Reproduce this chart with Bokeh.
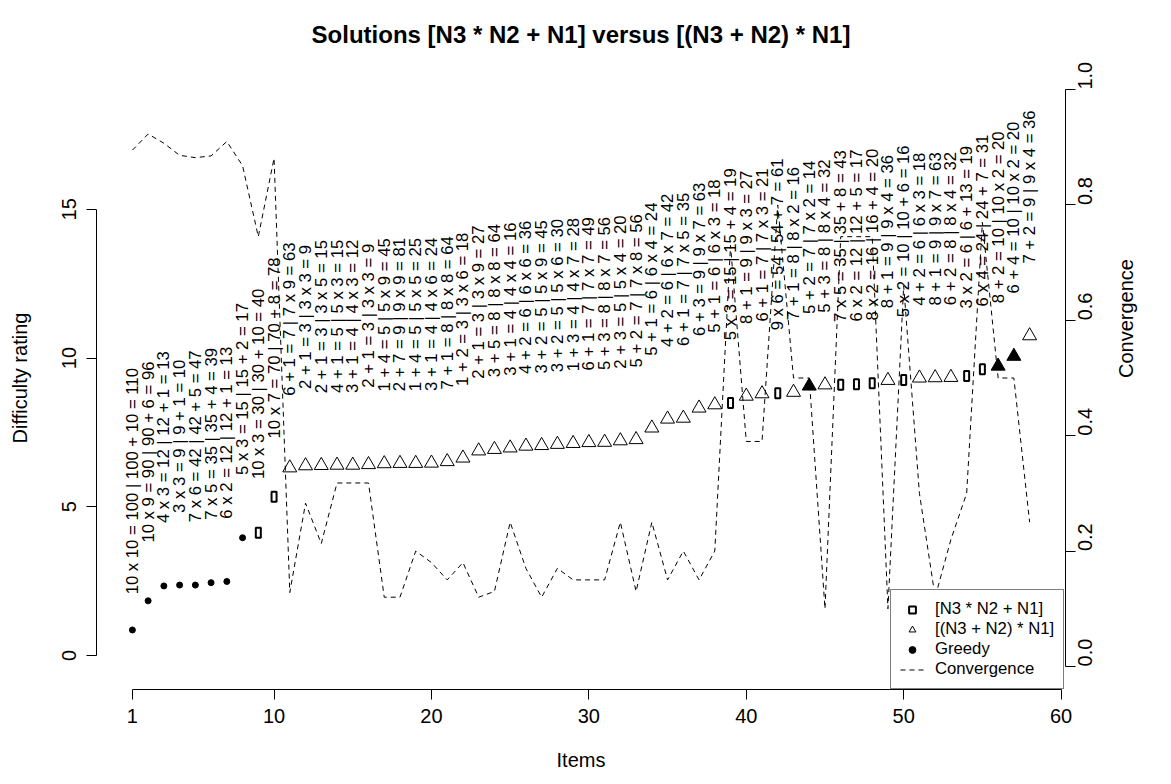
import math
from bokeh.plotting import figure
from bokeh.models import (Range1d, LinearAxis, FixedTicker, PrintfTickFormatter,
                          ColumnDataSource, Legend, LegendItem)
from bokeh.core.properties import value
from bokeh.embed import file_html
from bokeh.resources import INLINE

FONT = "Liberation Sans"

# ---------------- data ----------------
items = list(range(1, 59))

difficulty = [0.86, 1.84, 2.34, 2.37, 2.37, 2.45, 2.49, 3.96, 4.13, 5.34,
              6.31, 6.38, 6.39, 6.40, 6.40, 6.42, 6.45, 6.46, 6.46, 6.47,
              6.52, 6.64, 6.88, 6.93, 6.98, 7.04, 7.06, 7.10, 7.13, 7.16,
              7.17, 7.22, 7.26, 7.65, 7.95, 7.98, 8.32, 8.43, 8.49, 8.72,
              8.80, 8.82, 8.85, 9.06, 9.10, 9.10, 9.12, 9.15, 9.25, 9.26,
              9.33, 9.34, 9.35, 9.40, 9.62, 9.73, 10.06, 10.75]

# g = greedy, r = [N3 * N2 + N1], t = [(N3 + N2) * N1], f = filled triangle
kinds = ["g", "g", "g", "g", "g", "g", "g", "g", "r", "r",
         "t", "t", "t", "t", "t", "t", "t", "t", "t", "t",
         "t", "t", "t", "t", "t", "t", "t", "t", "t", "t",
         "t", "t", "t", "t", "t", "t", "t", "t", "r", "t",
         "t", "r", "t", "f", "t", "r", "r", "r", "t", "r",
         "t", "t", "t", "r", "r", "f", "f", "t"]

convergence = [0.895, 0.923, 0.907, 0.886, 0.882, 0.885, 0.910, 0.868, 0.745, 0.881,
               0.128, 0.283, 0.213, 0.318, 0.318, 0.318, 0.12, 0.12, 0.20, 0.18,
               0.15, 0.18, 0.12, 0.13, 0.25, 0.17, 0.12, 0.17, 0.15, 0.15,
               0.15, 0.25, 0.13, 0.25, 0.15, 0.20, 0.15, 0.20, 0.73, 0.39,
               0.39, 0.80, 0.50, 0.50, 0.10, 0.745, 0.745, 0.745, 0.10, 0.66,
               0.30, 0.12, 0.22, 0.30, 0.77, 0.50, 0.50, 0.25]

labels = [
    "10 x 10 = 100 | 100 + 10 = 110",
    "10 x 9 = 90 | 90 + 6 = 96",
    "4 x 3 = 12 | 12 + 1 = 13",
    "3 x 3 = 9 | 9 + 1 = 10",
    "7 x 6 = 42 | 42 + 5 = 47",
    "7 x 5 = 35 | 35 + 4 = 39",
    "6 x 2 = 12 | 12 + 1 = 13",
    "5 x 3 = 15 | 15 + 2 = 17",
    "10 x 3 = 30 | 30 + 10 = 40",
    "10 x 7 = 70 | 70 + 8 = 78",
    "6 + 1 = 7 | 7 x 9 = 63",
    "2 + 1 = 3 | 3 x 3 = 9",
    "2 + 1 = 3 | 3 x 5 = 15",
    "4 + 1 = 5 | 5 x 3 = 15",
    "3 + 1 = 4 | 4 x 3 = 12",
    "2 + 1 = 3 | 3 x 3 = 9",
    "1 + 4 = 5 | 5 x 9 = 45",
    "2 + 7 = 9 | 9 x 9 = 81",
    "1 + 4 = 5 | 5 x 5 = 25",
    "3 + 1 = 4 | 4 x 6 = 24",
    "7 + 1 = 8 | 8 x 8 = 64",
    "1 + 2 = 3 | 3 x 6 = 18",
    "2 + 1 = 3 | 3 x 9 = 27",
    "3 + 5 = 8 | 8 x 8 = 64",
    "3 + 1 = 4 | 4 x 4 = 16",
    "4 + 2 = 6 | 6 x 6 = 36",
    "3 + 2 = 5 | 5 x 9 = 45",
    "3 + 2 = 5 | 5 x 6 = 30",
    "1 + 3 = 4 | 4 x 7 = 28",
    "6 + 1 = 7 | 7 x 7 = 49",
    "5 + 3 = 8 | 8 x 7 = 56",
    "2 + 3 = 5 | 5 x 4 = 20",
    "5 + 2 = 7 | 7 x 8 = 56",
    "5 + 1 = 6 | 6 x 4 = 24",
    "4 + 2 = 6 | 6 x 7 = 42",
    "6 + 1 = 7 | 7 x 5 = 35",
    "6 + 3 = 9 | 9 x 7 = 63",
    "5 + 1 = 6 | 6 x 3 = 18",
    "5 x 3 = 15 | 15 + 4 = 19",
    "8 + 1 = 9 | 9 x 3 = 27",
    "6 + 1 = 7 | 7 x 3 = 21",
    "9 x 6 = 54 | 54 + 7 = 61",
    "7 + 1 = 8 | 8 x 2 = 16",
    "5 + 2 = 7 | 7 x 2 = 14",
    "5 + 3 = 8 | 8 x 4 = 32",
    "7 x 5 = 35 | 35 + 8 = 43",
    "6 x 2 = 12 | 12 + 5 = 17",
    "8 x 2 = 16 | 16 + 4 = 20",
    "8 + 1 = 9 | 9 x 4 = 36",
    "5 x 2 = 10 | 10 + 6 = 16",
    "4 + 2 = 6 | 6 x 3 = 18",
    "8 + 1 = 9 | 9 x 7 = 63",
    "6 + 2 = 8 | 8 x 4 = 32",
    "3 x 2 = 6 | 6 + 13 = 19",
    "6 x 4 = 24 | 24 + 7 = 31",
    "8 + 2 = 10 | 10 x 2 = 20",
    "6 + 4 = 10 | 10 x 2 = 20",
    "7 + 2 = 9 | 9 x 4 = 36",
]

x_ticks = [1, 10, 20, 30, 40, 50, 60]
y_ticks = [0, 5, 10, 15]
conv_ticks = [0.0, 0.2, 0.4, 0.6, 0.8, 1.0]
label_offset = 5.0

# ---------------- sources ----------------
def subset(kind):
    idx = [i for i, k in enumerate(kinds) if k == kind]
    return ColumnDataSource(dict(x=[items[i] for i in idx],
                                 y=[difficulty[i] for i in idx]))

src_g = subset("g")
src_r = subset("r")
src_t = subset("t")
src_f = subset("f")
src_lab = ColumnDataSource(dict(x=items,
                                y=[d + label_offset for d in difficulty],
                                text=labels))

# ---------------- figure ----------------
p = figure(width=1155, height=776,
           x_range=Range1d(-1.28, 60.28),
           y_range=Range1d(-1.141, 19.80),
           output_backend="svg", toolbar_location=None,
           min_border_left=96, min_border_right=90,
           min_border_top=65, min_border_bottom=87)
p.extra_y_ranges = {"conv": Range1d(-0.04, 1.04)}

p.xgrid.visible = False
p.ygrid.visible = False
p.outline_line_color = None
p.background_fill_color = "white"
p.border_fill_color = "white"

p.title.text = "Solutions [N3 * N2 + N1] versus [(N3 + N2) * N1]"
p.title.text_font = FONT
p.title.text_font_size = "24px"
p.title.text_font_style = "bold"
p.title.text_color = "black"
p.title.align = "center"
p.title.standoff = 37


def style_axis(ax):
    ax.axis_line_color = "black"
    ax.axis_line_width = 1
    ax.major_tick_line_color = "black"
    ax.minor_tick_line_color = None
    ax.major_tick_in = 0
    ax.major_tick_out = 10
    ax.major_label_text_font = FONT
    ax.major_label_text_font_size = "20px"
    ax.major_label_text_color = "black"
    ax.axis_label_text_font = FONT
    ax.axis_label_text_font_size = "20px"
    ax.axis_label_text_font_style = "normal"
    ax.axis_label_text_color = "black"


xa = p.xaxis[0]
style_axis(xa)
xa.ticker = FixedTicker(ticks=x_ticks)
xa.bounds = (1, 60)
xa.axis_label = "Items"
xa.major_label_standoff = 9
xa.axis_label_standoff = 23

ya = p.yaxis[0]
style_axis(ya)
ya.ticker = FixedTicker(ticks=y_ticks)
ya.bounds = (0, 15)
ya.axis_label = "Difficulty rating"
ya.major_label_orientation = "vertical"
ya.major_label_standoff = 10
ya.axis_label_standoff = 29

ra = LinearAxis(y_range_name="conv", ticker=FixedTicker(ticks=conv_ticks),
                formatter=PrintfTickFormatter(format="%.1f"), bounds=(0, 1),
                axis_label="Convergence")
style_axis(ra)
ra.major_label_orientation = math.pi / 2
ra.major_label_standoff = 10
ra.axis_label_standoff = 23
try:
    ra.axis_label_orientation = math.pi / 2
except Exception:
    pass
p.add_layout(ra, "right")

# ---------------- glyphs ----------------
r_line = p.line(items, convergence, y_range_name="conv", line_color="black",
                line_width=1, line_dash="5 4")

p.text(x="x", y="y", text="text", source=src_lab, angle=math.pi / 2,
       text_align="center", text_baseline="middle",
       text_font=value(FONT), text_font_size="16.7px", text_color="black")

r_g = p.scatter(x="x", y="y", source=src_g, marker="circle", size=6,
                fill_color="black", line_color="black")
r_r = p.rect(x="x", y="y", source=src_r, width=5, height=10,
             width_units="screen", height_units="screen",
             fill_color=None, line_color="black", line_width=2)
r_t = p.scatter(x="x", y="y", source=src_t, marker="triangle", size=14,
                fill_color=None, line_color="black", line_width=1)
r_f = p.scatter(x="x", y="y", source=src_f, marker="triangle", size=14,
                fill_color="black", line_color="black", line_width=1)

# legend proxy for the rectangle symbol (NaN point: nothing drawn in the plot)
r_r_proxy = p.scatter(x=[float("nan")], y=[float("nan")], marker="square",
                      size=8, fill_color=None, line_color="black",
                      line_width=2)

legend = Legend(items=[
    LegendItem(label="[N3 * N2 + N1]", renderers=[r_r_proxy]),
    LegendItem(label="[(N3 + N2) * N1]", renderers=[r_t]),
    LegendItem(label="Greedy", renderers=[r_g]),
    LegendItem(label="Convergence", renderers=[r_line]),
], location=(794, 0))
legend.border_line_color = "black"
legend.border_line_width = 1
legend.background_fill_color = "white"
legend.background_fill_alpha = 1.0
legend.label_text_font = FONT
legend.label_text_font_size = "16.7px"
legend.label_text_color = "black"
legend.glyph_width = 24
legend.glyph_height = 17
legend.label_height = 17
legend.spacing = 0
legend.padding = 9
legend.margin = 0
legend.label_standoff = 11
p.add_layout(legend)

open("out.html", "w").write(file_html(p, INLINE))
